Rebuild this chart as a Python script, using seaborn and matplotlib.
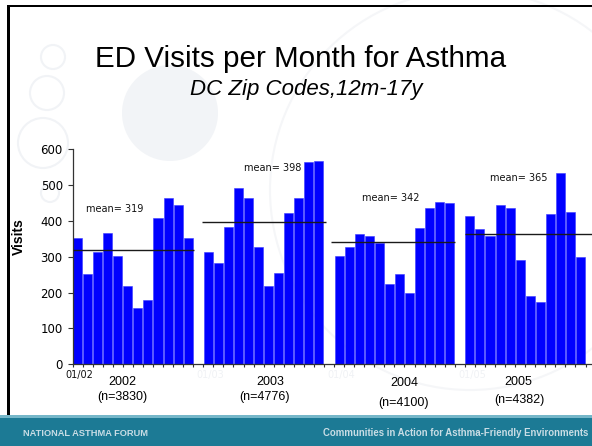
import matplotlib
matplotlib.use("Agg")
import matplotlib.pyplot as plt
import matplotlib.transforms as mtransforms
from matplotlib.patches import Rectangle, Circle
import numpy as np
import pandas as pd
import seaborn as sns

# ---------------- data ----------------
years = ["2002", "2003", "2004", "2005"]
visits_2002 = [352, 251, 314, 367, 302, 218, 158, 180, 407, 465, 444, 352]
visits_2003 = [313, 284, 383, 493, 465, 327, 219, 254, 421, 463, 564, 567]
visits_2004 = [303, 327, 363, 358, 338, 224, 252, 200, 381, 436, 453, 451]
visits_2005 = [414, 378, 358, 445, 436, 290, 191, 174, 419, 533, 426, 299]
means = [319, 398, 342, 365]
n_counts = [3830, 4776, 4100, 4382]
first_month_labels = ["01/02", "01/03", "01/04", "01/05"]
y_ticks = [0, 100, 200, 300, 400, 500, 600]

title = "ED Visits per Month for Asthma"
subtitle = "DC Zip Codes,12m-17y"
y_label = "Visits"
footer_left = "NATIONAL ASTHMA FORUM"
footer_right = "Communities in Action for Asthma-Friendly Environments"

# ---------------- build table ----------------
series = [visits_2002, visits_2003, visits_2004, visits_2005]
rows = []
for k, vals in enumerate(series):
    for m, v in enumerate(vals):
        rows.append({"pos": k * 13 + m, "year": years[k], "visits": v})
df = pd.DataFrame(rows)

# ---------------- figure ----------------
W, H = 592, 446
fig = plt.figure(figsize=(W / 100, H / 100), dpi=100)
fig.patch.set_facecolor("white")
px = mtransforms.Affine2D().scale(1 / W, -1 / H).translate(0, 1) + fig.transFigure

# faint watermark
fig.patches.append(Circle((170, 113), 48, transform=px, facecolor="#f2f4f7",
                          edgecolor="none", zorder=-5))
for (cx, cy, r) in [(53, 57, 12), (47, 93, 17), (43, 143, 25), (50, 193, 9)]:
    fig.patches.append(Circle((cx, cy), r, transform=px, facecolor="none",
                              edgecolor="#f1f3f6", lw=1.5, zorder=-5))
fig.patches.append(Circle((470, 190), 200, transform=px, facecolor="none",
                          edgecolor="#f5f6f8", lw=1.5, zorder=-5))

# frame lines
fig.patches.append(Rectangle((7, 5), W, 2.4, transform=px, facecolor="black",
                             edgecolor="none", zorder=5))
fig.patches.append(Rectangle((7, 5), 2.6, 410, transform=px, facecolor="black",
                             edgecolor="none", zorder=5))
# footer
fig.patches.append(Rectangle((0, 415), W, 31, transform=px, facecolor="#1c7a95",
                             edgecolor="none", zorder=5))
fig.patches.append(Rectangle((0, 415), W, 3, transform=px, facecolor="#76b7c9",
                             edgecolor="none", zorder=6))
fig.text(23 / W, 1 - 433 / H, footer_left, fontsize=6.7, fontweight="bold",
         family="Liberation Sans", color="#c9dde5", ha="left", va="center", zorder=7)
fig.text(588 / W, 1 - 433 / H, footer_right, fontsize=6.9, fontweight="bold",
         family="Liberation Sans", color="#c9dde5", ha="right", va="center", zorder=7)

# titles
fig.text(301 / W, 1 - 59 / H, title, fontsize=21.3, family="Liberation Sans",
         ha="center", va="center", color="black")
fig.text(306 / W, 1 - 89 / H, subtitle, fontsize=16, family="Liberation Sans",
         style="italic", ha="center", va="center", color="black")

# ---------------- axes ----------------
x0, y0, y600 = 72.5, 364.3, 149.3
slot = 10.06
ax = fig.add_axes([x0 / W, (H - y0) / H, (W - x0) / W, (y0 - y600) / H])
ax.patch.set_alpha(0)

sns.barplot(data=df, x="pos", y="visits", native_scale=True, width=0.9,
            color="#0000ff", saturation=1, edgecolor="#3a3aff", linewidth=0.4,
            ax=ax)

xmax = (W - x0) / slot - 0.5
ax.set_xlim(-0.5, xmax)
ax.set_ylim(0, 600)

# mean lines and labels
line_start = [-0.45, -0.6, -0.8, -0.45]
line_end = [11.6, 11.7, 11.5, 30]
label_dx = [0.83, 3.57, 2.27, 1.99]
label_y = [434, 548, 464, 520]
for k in range(4):
    base = k * 13
    ax.hlines(means[k], base + line_start[k], min(base + line_end[k], xmax),
              color="#1a1a1a", lw=1.0, zorder=4)
    ax.text(base + label_dx[k], label_y[k], f"mean= {means[k]}", fontsize=7,
            family="DejaVu Sans", ha="left", va="center", color="#111111")

# first-month labels (barely visible except the first)
blend = mtransforms.blended_transform_factory(ax.transData, ax.transAxes)
for k in range(4):
    ax.text(k * 13 + 0.2, -0.05, first_month_labels[k], transform=blend,
            fontsize=7, family="DejaVu Sans", ha="center", va="center",
            color="#111111" if k == 0 else "#f0f2f5")

# year and count labels
year_xy = [(122, 381.7), (270, 382), (404, 382.7), (518.3, 382)]
n_xy = [(122.5, 396.7), (265, 397), (403.3, 403.3), (519.3, 400)]
for k in range(4):
    fig.text(year_xy[k][0] / W, 1 - year_xy[k][1] / H, years[k], fontsize=9,
             family="Liberation Sans", ha="center", va="center")
    fig.text(n_xy[k][0] / W, 1 - n_xy[k][1] / H, f"(n={n_counts[k]})", fontsize=9,
             family="Liberation Sans", ha="center", va="center")

# ticks and spines
ax.set_yticks(y_ticks)
ax.set_yticklabels([str(t) for t in y_ticks], family="DejaVu Sans", fontsize=8.5)
ax.set_xticks(np.arange(-0.5, xmax, 1.0))
ax.set_xticklabels([])
ax.tick_params(axis="y", length=3.5, width=0.8, pad=3.5, color="#333333",
               direction="out")
ax.tick_params(axis="x", length=2.5, width=0.8, color="#333333", direction="out")
for s in ["top", "right"]:
    ax.spines[s].set_visible(False)
for s in ["left", "bottom"]:
    ax.spines[s].set_color("#333333")
    ax.spines[s].set_linewidth(0.9)
ax.set_xlabel("")
ax.set_ylabel(y_label, fontsize=10, fontweight="bold", family="Liberation Sans")
ax.yaxis.set_label_coords((25.5 - x0) / (W - x0), (y0 - 236.7) / (y0 - y600))

fig.savefig("out.png", dpi=100)
